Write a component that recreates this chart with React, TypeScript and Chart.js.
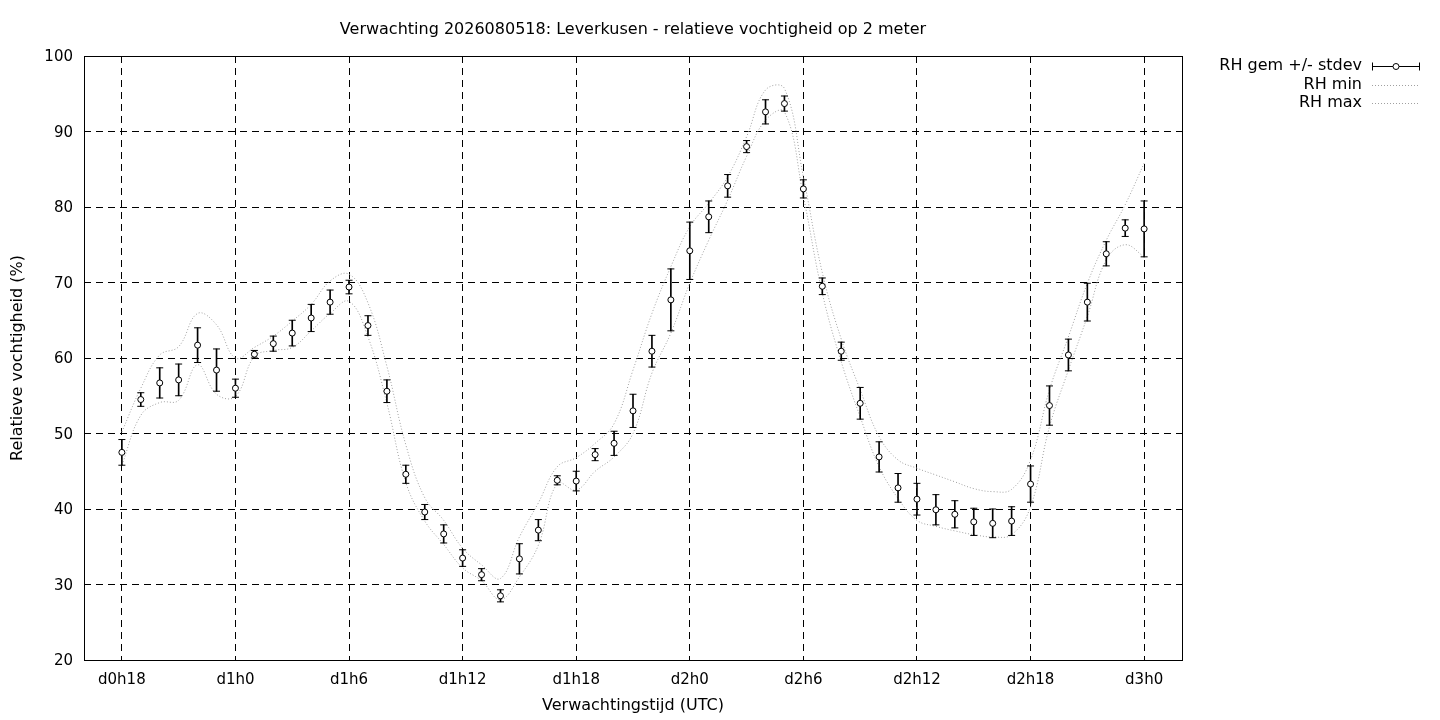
import { useEffect, useRef } from "react";
import { Chart, registerables } from "chart.js";

Chart.register(...registerables);

const FONT = '"DejaVu Sans", "Liberation Sans", sans-serif';

const titleText = "Verwachting 2026080518: Leverkusen - relatieve vochtigheid op 2 meter";
const xTitle = "Verwachtingstijd (UTC)";
const yTitle = "Relatieve vochtigheid (%)";

const hours = [
  18, 19, 20, 21, 22, 23, 24, 25, 26, 27, 28, 29, 30, 31, 32, 33, 34, 35, 36,
  37, 38, 39, 40, 41, 42, 43, 44, 45, 46, 47, 48, 49, 50, 51, 52, 53, 54, 55,
  56, 57, 58, 59, 60, 61, 62, 63, 64, 65, 66, 67, 68, 69, 70, 71, 72,
];

const tickHours = [18, 24, 30, 36, 42, 48, 54, 60, 66, 72];
const tickLabels = ["d0h18", "d1h0", "d1h6", "d1h12", "d1h18", "d2h0", "d2h6", "d2h12", "d2h18", "d3h0"];
const yTicks = [20, 30, 40, 50, 60, 70, 80, 90, 100];

const rhMean = [
  47.5, 54.5, 56.7, 57.1, 61.7, 58.4, 56.0, 60.5, 61.9, 63.3, 65.3, 67.4, 69.4,
  64.3, 55.6, 44.6, 39.6, 36.7, 33.5, 31.3, 28.5, 33.4, 37.2, 43.8, 43.7, 47.2,
  48.7, 53.0, 60.9, 67.7, 74.2, 78.7, 82.8, 88.0, 92.6, 93.7, 82.4, 69.5, 60.9,
  54.0, 46.9, 42.8, 41.3, 39.9, 39.3, 38.3, 38.1, 38.4, 43.3, 53.7, 60.4, 67.4,
  73.8, 77.2, 77.1,
];

const rhStdev = [
  1.7, 0.9, 2.0, 2.1, 2.3, 2.8, 1.2, 0.5, 1.0, 1.7, 1.8, 1.6, 0.9, 1.3, 1.5,
  1.2, 1.0, 1.2, 1.1, 0.8, 0.8, 2.0, 1.4, 0.6, 1.3, 0.8, 1.6, 2.2, 2.1, 4.1,
  3.8, 2.1, 1.5, 0.8, 1.6, 1.0, 1.2, 1.1, 1.2, 2.1, 2.0, 1.9, 2.1, 2.0, 1.8,
  1.8, 1.9, 1.9, 2.4, 2.6, 2.1, 2.5, 1.6, 1.1, 3.7,
];

const rhMin = [
  45.8, 52.4, 54.1, 54.4, 59.1, 55.2, 54.9, 60.2, 61.0, 61.4, 63.6, 65.9, 67.5,
  62.8, 54.0, 43.5, 38.4, 35.3, 32.2, 30.5, 28.0, 31.0, 35.2, 43.4, 42.5, 45.0,
  46.9, 50.0, 58.0, 63.3, 69.9, 75.6, 80.9, 86.7, 91.5, 92.6, 81.4, 68.6, 59.5,
  52.2, 45.6, 41.4, 38.5, 37.7, 37.1, 36.6, 36.3, 36.6, 40.3, 50.9, 58.4, 65.5,
  73.0, 75.0, 73.4,
];

const rhMax = [
  50.2, 56.0, 60.4, 61.5, 65.9, 64.4, 60.0, 61.4, 62.9, 64.9, 67.1, 70.2, 71.1,
  67.3, 58.9, 48.5, 41.5, 38.5, 34.8, 32.6, 30.8, 36.3, 40.8, 45.6, 46.8, 48.7,
  51.3, 58.4, 65.9, 72.1, 77.4, 80.5, 84.0, 89.3, 95.5, 95.7, 84.0, 71.3, 62.5,
  55.8, 49.6, 46.5, 45.4, 44.5, 43.6, 42.7, 42.3, 42.6, 46.5, 55.8, 62.8, 69.9,
  75.6, 80.3, 85.8,
];

const legendLabels = ["RH gem +/- stdev", "RH min", "RH max"];

const DOT_COLOR = "#a0a0a0";

const framePlugin = {
  id: "frame",
  afterDraw(chart: any) {
    const { ctx, chartArea } = chart;
    const l = Math.round(chartArea.left) + 0.5;
    const t = Math.round(chartArea.top) + 0.5;
    const r = Math.round(chartArea.right) + 0.5;
    const b = Math.round(chartArea.bottom) + 0.5;
    ctx.save();
    ctx.strokeStyle = "#000";
    ctx.lineWidth = 1;
    ctx.setLineDash([]);
    ctx.strokeRect(l, t, r - l, b - t);
    ctx.restore();
  },
};

const legendPlugin = {
  id: "gpLegend",
  afterDraw(chart: any) {
    const { ctx, chartArea } = chart;
    const textRight = chartArea.right + 180;
    const sx0 = chartArea.right + 190;
    const sx1 = chartArea.right + 238;
    const rows = [65.5, 84.5, 103];
    ctx.save();
    ctx.font = `16px ${FONT}`;
    ctx.fillStyle = "#000";
    ctx.textAlign = "right";
    ctx.textBaseline = "middle";
    legendLabels.forEach((t, i) => ctx.fillText(t, textRight, rows[i]));
    // error bar sample
    ctx.strokeStyle = "#000";
    ctx.lineWidth = 1;
    const y0 = Math.round(rows[0]) + 0.5;
    ctx.beginPath();
    ctx.moveTo(sx0, y0);
    ctx.lineTo(sx1, y0);
    ctx.moveTo(sx0 + 0.5, y0 - 4);
    ctx.lineTo(sx0 + 0.5, y0 + 4);
    ctx.moveTo(sx1 - 0.5, y0 - 4);
    ctx.lineTo(sx1 - 0.5, y0 + 4);
    ctx.stroke();
    ctx.beginPath();
    ctx.fillStyle = "#fff";
    ctx.arc((sx0 + sx1) / 2, y0, 3, 0, Math.PI * 2);
    ctx.fill();
    ctx.stroke();
    // dotted samples
    ctx.strokeStyle = DOT_COLOR;
    ctx.lineWidth = 1;
    ctx.setLineDash([1, 2]);
    [rows[1], rows[2]].forEach((r) => {
      const yy = Math.round(r) + 0.5;
      ctx.beginPath();
      ctx.moveTo(sx0, yy);
      ctx.lineTo(sx1, yy);
      ctx.stroke();
    });
    ctx.restore();
  },
};

export default function App() {
  const ref = useRef<HTMLCanvasElement | null>(null);

  useEffect(() => {
    document.body.style.margin = "0";
    const canvas = ref.current;
    if (!canvas) return;

    const meanPts = hours.map((h, i) => ({ x: h, y: rhMean[i] }));
    const capPts: { x: number; y: number }[] = [];
    hours.forEach((h, i) => {
      capPts.push({ x: h, y: rhMean[i] - rhStdev[i] });
      capPts.push({ x: h, y: rhMean[i] + rhStdev[i] });
    });
    const barPts = hours.map((h, i) => ({ x: h, y: [rhMean[i] - rhStdev[i], rhMean[i] + rhStdev[i]] }));
    const minPts = hours.map((h, i) => ({ x: h, y: rhMin[i] }));
    const maxPts = hours.map((h, i) => ({ x: h, y: rhMax[i] }));

    const chart = new Chart(canvas, {
      type: "scatter",
      data: {
        datasets: [
          {
            type: "scatter",
            label: legendLabels[0],
            data: meanPts,
            pointStyle: "circle",
            pointRadius: 3,
            pointBackgroundColor: "#fff",
            pointBorderColor: "#000",
            pointBorderWidth: 1,
            order: 0,
          } as any,
          {
            type: "scatter",
            label: "caps",
            data: capPts,
            pointStyle: "line",
            pointRadius: 3.5,
            pointBorderColor: "#000",
            pointBorderWidth: 1,
            order: 1,
          } as any,
          {
            type: "bar",
            label: "bars",
            data: barPts,
            backgroundColor: "#000",
            borderWidth: 0,
            barThickness: 1,
            grouped: false,
            order: 2,
          } as any,
          {
            type: "line",
            label: legendLabels[1],
            data: minPts,
            borderColor: DOT_COLOR,
            borderWidth: 1,
            borderDash: [1, 2],
            pointRadius: 0,
            tension: 0.4,
            fill: false,
            order: 3,
          } as any,
          {
            type: "line",
            label: legendLabels[2],
            data: maxPts,
            borderColor: DOT_COLOR,
            borderWidth: 1,
            borderDash: [1, 2],
            pointRadius: 0,
            tension: 0.4,
            fill: false,
            order: 3,
          } as any,
        ],
      },
      options: {
        responsive: false,
        animation: false,
        events: [],
        layout: { padding: { left: 0, right: 258, top: 0, bottom: 0 } },
        plugins: {
          legend: { display: false },
          tooltip: { enabled: false },
          title: {
            display: true,
            text: titleText,
            fullSize: false,
            color: "#000",
            font: { family: FONT, size: 16, weight: "normal", lineHeight: 1.2 },
            padding: { top: 20, bottom: 16.8 },
          },
        },
        scales: {
          x: {
            type: "linear",
            min: 16,
            max: 74,
            offset: false,
            afterBuildTicks: (s: any) => {
              s.ticks = tickHours.map((v) => ({ value: v }));
            },
            afterFit: (s: any) => {
              s.height = 60;
            },
            ticks: {
              autoSkip: false,
              maxRotation: 0,
              padding: 11,
              color: "#000",
              font: { family: FONT, size: 15 },
              callback: (v: any) => {
                const k = tickHours.indexOf(Number(v));
                return k >= 0 ? tickLabels[k] : "";
              },
            },
            grid: { color: "#000", lineWidth: 1, drawTicks: false, offset: false },
            border: { display: false, dash: [7, 5] },
            title: {
              display: true,
              text: xTitle,
              color: "#000",
              font: { family: FONT, size: 16, lineHeight: 1.2 },
              padding: { top: 0, bottom: 4.4 },
            },
          },
          y: {
            type: "linear",
            min: 20,
            max: 100,
            afterBuildTicks: (s: any) => {
              s.ticks = yTicks.map((v) => ({ value: v }));
            },
            afterFit: (s: any) => {
              s.width = 84;
            },
            ticks: {
              padding: 11,
              labelOffset: 1.5,
              color: "#000",
              font: { family: FONT, size: 15 },
            },
            grid: { color: "#000", lineWidth: 1, drawTicks: false },
            border: { display: false, dash: [7, 5] },
            title: {
              display: true,
              text: yTitle,
              color: "#000",
              font: { family: FONT, size: 16, lineHeight: 1.2 },
              padding: { top: 8.4, bottom: 0 },
            },
          },
        },
      },
      plugins: [framePlugin, legendPlugin],
    } as any);

    return () => chart.destroy();
  }, []);

  return (
    <div style={{ position: "absolute", left: 0, top: 0, width: 1440, height: 720, background: "#fff" }}>
      <canvas ref={ref} width={1440} height={720} style={{ display: "block" }} />
    </div>
  );
}
